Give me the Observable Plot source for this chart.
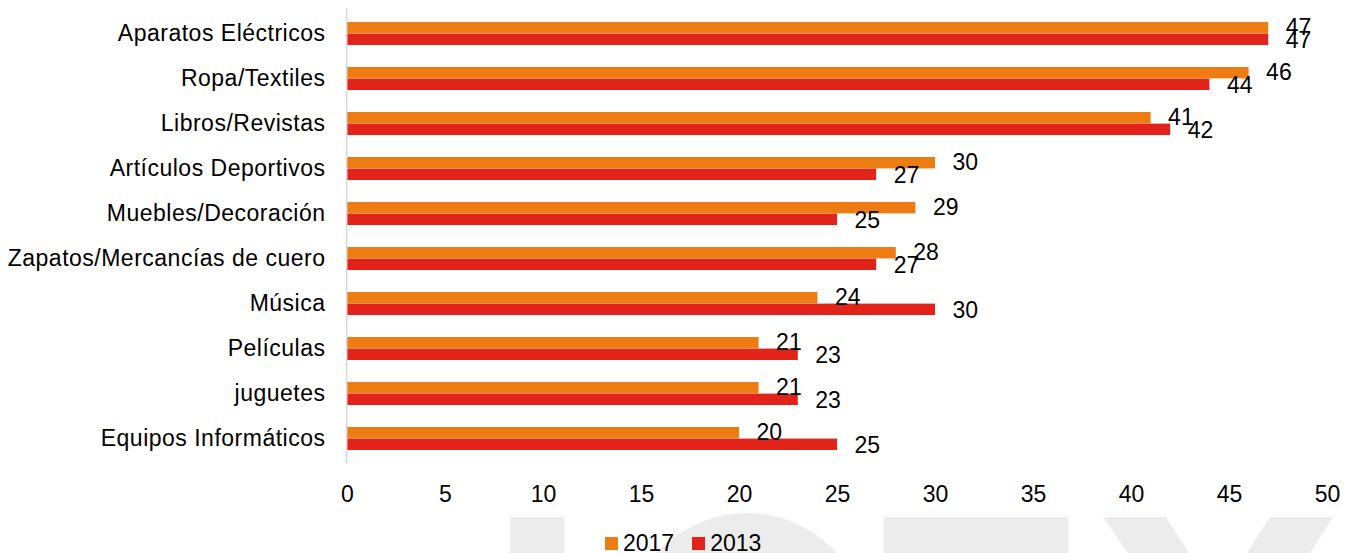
<!DOCTYPE html>
<html>
<head>
<meta charset="utf-8">
<script src="https://cdn.jsdelivr.net/npm/d3@7"></script>
<script src="https://cdn.jsdelivr.net/npm/@observablehq/plot@0.6"></script>
<style>
  html, body { margin: 0; padding: 0; background: #fff; }
  #wrap { position: relative; width: 1357px; height: 553px; overflow: hidden; font-family: "Liberation Sans", Arial, sans-serif; }
  .wm { position: absolute; background: #ececec; }
  #chart { position: absolute; left: 0; top: 0; }
  #legend { position: absolute; top: 533px; left: 605px; height: 20px; line-height: 20px; display: flex; align-items: center; font-size: 23px; color: #000; }
  #legend .sw { width: 13px; height: 13px; display: inline-block; margin-right: 5px; }
  #legend .item { display: flex; align-items: center; margin-right: 18px; }
  .cb g[aria-label^="y-axis"] text { letter-spacing: 0.5px; }
</style>
</head>
<body>
<div id="wrap">
  <div class="wm" style="left:510px;top:517px;width:54px;height:40px;"></div>
  <div class="wm" style="left:626px;top:513px;width:242px;height:242px;border-radius:50%;"></div>
  <div class="wm" style="left:884px;top:517px;width:184px;height:40px;"></div>
  <div class="wm" style="left:1100px;top:517px;width:92px;height:36px;clip-path:polygon(3px 0, 66px 0, 89px 36px, 28px 36px);"></div>
  <div class="wm" style="left:1245px;top:517px;width:92px;height:36px;clip-path:polygon(25px 0, 88px 0, 65px 36px, 2px 36px);"></div>
  <div id="chart"></div>
  <div id="legend"></div>
</div>
<script>
const categories = ["Aparatos Eléctricos","Ropa/Textiles","Libros/Revistas","Artículos Deportivos","Muebles/Decoración","Zapatos/Mercancías de cuero","Música","Películas","juguetes","Equipos Informáticos"];
const values2017 = [47,46,41,30,29,28,24,21,21,20];
const values2013 = [47,44,42,27,25,27,30,23,23,25];
const series = ["2017","2013"];
const colors = ["#ED7D12","#E2231A"];
const xTicks = [0,5,10,15,20,25,30,35,40,45,50];

const d2017 = categories.map((c, i) => ({cat: c, value: values2017[i]}));
const d2013 = categories.map((c, i) => ({cat: c, value: values2013[i]}));

const font = "Liberation Sans, Arial, sans-serif";
const chart = Plot.plot({
  className: "cb",
  width: 1357,
  height: 525,
  marginLeft: 347,
  marginRight: 30,
  marginTop: 9,
  marginBottom: 62,
  style: {background: "transparent", fontFamily: font, fontSize: "23px", color: "#000"},
  x: {domain: [0, 50], ticks: xTicks, tickSize: 0, tickPadding: 22, label: null},
  y: {domain: categories, paddingInner: 0.49, paddingOuter: 0.245, tickSize: 0, tickPadding: 22, label: null},
  marks: [
    Plot.barX(d2017, {x: "value", y: "cat", fill: colors[0], insetBottom: 11.6}),
    Plot.barX(d2013, {x: "value", y: "cat", fill: colors[1], insetTop: 11.6}),
    Plot.ruleX([0], {stroke: "#d9d9d9", strokeWidth: 1.6, dx: -0.8}),
    Plot.text(d2017, {x: "value", y: "cat", text: d => String(d.value), dx: 17, dy: -6.5, textAnchor: "start", fill: "#000", fontSize: 23}),
    Plot.text(d2013, {x: "value", y: "cat", text: d => String(d.value), dx: 17, dy: 6.5, textAnchor: "start", fill: "#000", fontSize: 23})
  ]
});
document.getElementById("chart").appendChild(chart);

const legend = document.getElementById("legend");
series.forEach((s, i) => {
  const item = document.createElement("span");
  item.className = "item";
  const sw = document.createElement("span");
  sw.className = "sw";
  sw.style.background = colors[i];
  item.appendChild(sw);
  item.appendChild(document.createTextNode(s));
  legend.appendChild(item);
});
</script>
</body>
</html>
